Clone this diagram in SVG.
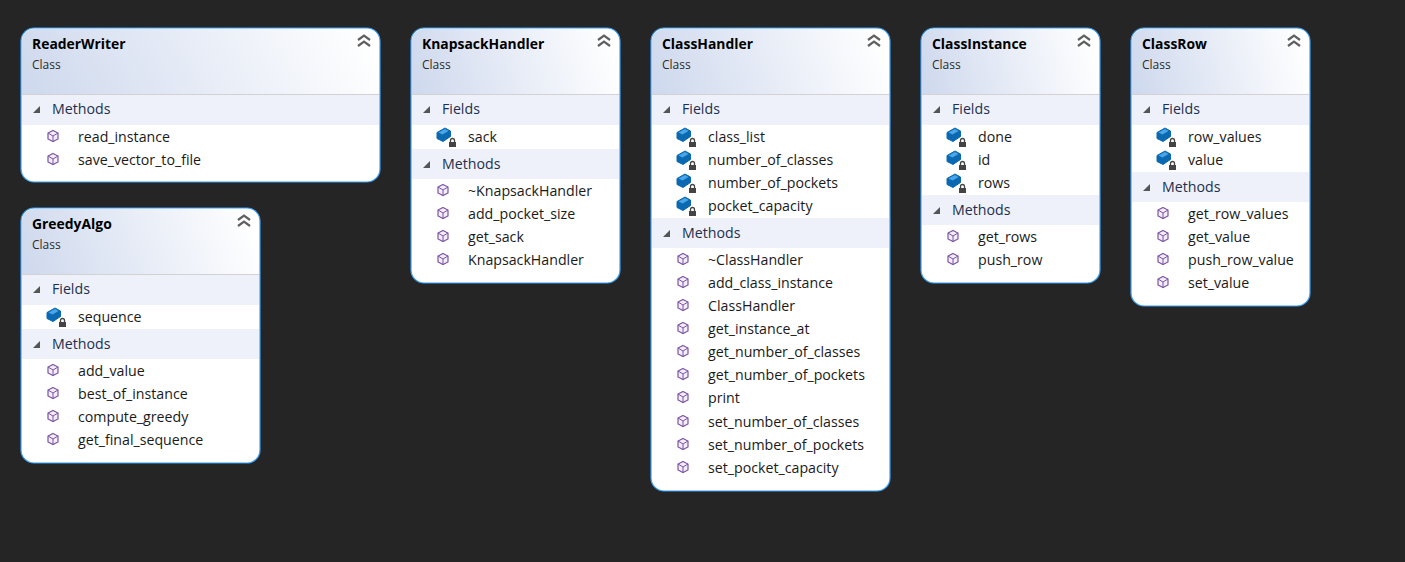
<svg xmlns="http://www.w3.org/2000/svg" width="1405" height="562" viewBox="0 0 1405 562">
<style>
text{font-family:"Open Sans","Noto Sans","Liberation Sans",sans-serif;font-size:14.2px;fill:#1a1a1a}
.t{font-weight:700;fill:#000;font-size:13.9px}
.c{font-size:12px;fill:#2b2b2b}
.s{fill:#1c3050}
.box{fill:#fff;stroke:#38a0f8;stroke-width:1.2}
.bar{fill:#eef1f9}
.sep{stroke:#d2d2d2;stroke-width:1}
</style>
<defs>
<linearGradient id="hg" x1="0" y1="0.55" x2="1" y2="0.45"><stop offset="0" stop-color="#d0daee"/><stop offset="1" stop-color="#ffffff"/></linearGradient>
<symbol id="tri" overflow="visible"><path d="M0 0L7 -7V0Z" fill="#555"/></symbol>
<symbol id="m" overflow="visible"><path d="M0 -5.500L5 -3V3L0 5.500L-5 3V-3Z" fill="#f3ecf9" stroke="#7a55a5" stroke-width="1.2"/><path d="M-5 -3L0 0L5 -3M0 0V5.500" fill="none" stroke="#7a55a5" stroke-width="1"/></symbol>
<symbol id="f" overflow="visible"><path d="M-8 -2.500L0 -7L5.500 -4V1.500L-2 6.500L-8 3.500Z" fill="#0b69b2" stroke="#0b69b2" stroke-linejoin="round"/><path d="M-6.500 -2.500L0 -6L3.500 -4L-2.500 -0.500Z" fill="#4aa6ea"/><rect x="3" y="4" width="9" height="8" rx="1" fill="#fff"/><rect x="4" y="7" width="7" height="5" fill="#444"/><path d="M5.500 7V5.500a2 2 0 0 1 4 0V7" fill="none" stroke="#444" stroke-width="1.300"/></symbol>
<symbol id="col" overflow="visible"><path d="M-6 -2.500L0 -7L6 -2.500M-6 3.500L0 -1L6 3.500" fill="none" stroke="#606060" stroke-width="2.200"/></symbol>
</defs>
<rect width="1405" height="562" fill="#252525"/>
<g id="connectors"/>
<g id="ReaderWriter">
<rect class="box" x="21" y="28" width="359" height="154" rx="13"/>
<path d="M22 94V41a12 12 0 0 1 12-12H367a12 12 0 0 1 12 12V94Z" fill="url(#hg)"/>
<line class="sep" x1="22" y1="94.500" x2="379" y2="94.500"/>
<rect class="bar" x="22" y="95" width="357" height="30"/>
<use href="#col" x="364" y="42.500"/>
<text class="t" x="32" y="49">ReaderWriter</text><text class="c" x="32" y="69">Class</text>
<use href="#tri" x="33" y="113"/><text class="s" x="52" y="114">Methods</text>
<use href="#m" x="53" y="136"/><text x="78" y="142">read_instance</text>
<use href="#m" x="53" y="159"/><text x="78" y="165">save_vector_to_file</text>
</g>
<g id="GreedyAlgo">
<rect class="box" x="21" y="208" width="239" height="255" rx="13"/>
<path d="M22 274V221a12 12 0 0 1 12-12H247a12 12 0 0 1 12 12V274Z" fill="url(#hg)"/>
<line class="sep" x1="22" y1="274.500" x2="259" y2="274.500"/>
<rect class="bar" x="22" y="275" width="237" height="30"/>
<rect class="bar" x="22" y="329" width="237" height="30"/>
<use href="#col" x="244" y="222.500"/>
<text class="t" x="32" y="229">GreedyAlgo</text><text class="c" x="32" y="249">Class</text>
<use href="#tri" x="33" y="293"/><text class="s" x="52" y="294">Fields</text>
<use href="#f" x="55" y="315"/><text x="78" y="322">sequence</text>
<use href="#tri" x="33" y="348"/><text class="s" x="52" y="349">Methods</text>
<use href="#m" x="53" y="370"/><text x="78" y="376">add_value</text>
<use href="#m" x="53" y="393"/><text x="78" y="399">best_of_instance</text>
<use href="#m" x="53" y="416"/><text x="78" y="422">compute_greedy</text>
<use href="#m" x="53" y="439"/><text x="78" y="445">get_final_sequence</text>
</g>
<g id="KnapsackHandler">
<rect class="box" x="411" y="28" width="209" height="255" rx="13"/>
<path d="M412 94V41a12 12 0 0 1 12-12H607a12 12 0 0 1 12 12V94Z" fill="url(#hg)"/>
<line class="sep" x1="412" y1="94.500" x2="619" y2="94.500"/>
<rect class="bar" x="412" y="95" width="207" height="30"/>
<rect class="bar" x="412" y="149" width="207" height="30"/>
<use href="#col" x="604" y="42.500"/>
<text class="t" x="422" y="49">KnapsackHandler</text><text class="c" x="422" y="69">Class</text>
<use href="#tri" x="423" y="113"/><text class="s" x="442" y="114">Fields</text>
<use href="#f" x="445" y="135"/><text x="468" y="142">sack</text>
<use href="#tri" x="423" y="168"/><text class="s" x="442" y="169">Methods</text>
<use href="#m" x="443" y="190"/><text x="468" y="196">~KnapsackHandler</text>
<use href="#m" x="443" y="213"/><text x="468" y="219">add_pocket_size</text>
<use href="#m" x="443" y="236"/><text x="468" y="242">get_sack</text>
<use href="#m" x="443" y="259"/><text x="468" y="265">KnapsackHandler</text>
</g>
<g id="ClassHandler">
<rect class="box" x="651" y="28" width="239" height="463" rx="13"/>
<path d="M652 94V41a12 12 0 0 1 12-12H877a12 12 0 0 1 12 12V94Z" fill="url(#hg)"/>
<line class="sep" x1="652" y1="94.500" x2="889" y2="94.500"/>
<rect class="bar" x="652" y="95" width="237" height="30"/>
<rect class="bar" x="652" y="218" width="237" height="30"/>
<use href="#col" x="874" y="42.500"/>
<text class="t" x="662" y="49">ClassHandler</text><text class="c" x="662" y="69">Class</text>
<use href="#tri" x="663" y="113"/><text class="s" x="682" y="114">Fields</text>
<use href="#f" x="685" y="135"/><text x="708" y="142">class_list</text>
<use href="#f" x="685" y="158"/><text x="708" y="165">number_of_classes</text>
<use href="#f" x="685" y="181"/><text x="708" y="188">number_of_pockets</text>
<use href="#f" x="685" y="204"/><text x="708" y="211">pocket_capacity</text>
<use href="#tri" x="663" y="237"/><text class="s" x="682" y="238">Methods</text>
<use href="#m" x="683" y="259"/><text x="708" y="265">~ClassHandler</text>
<use href="#m" x="683" y="282"/><text x="708" y="288">add_class_instance</text>
<use href="#m" x="683" y="305"/><text x="708" y="311">ClassHandler</text>
<use href="#m" x="683" y="328"/><text x="708" y="334">get_instance_at</text>
<use href="#m" x="683" y="351"/><text x="708" y="357">get_number_of_classes</text>
<use href="#m" x="683" y="374"/><text x="708" y="380">get_number_of_pockets</text>
<use href="#m" x="683" y="397"/><text x="708" y="403">print</text>
<use href="#m" x="683" y="421"/><text x="708" y="427">set_number_of_classes</text>
<use href="#m" x="683" y="444"/><text x="708" y="450">set_number_of_pockets</text>
<use href="#m" x="683" y="467"/><text x="708" y="473">set_pocket_capacity</text>
</g>
<g id="ClassInstance">
<rect class="box" x="921" y="28" width="179" height="255" rx="13"/>
<path d="M922 94V41a12 12 0 0 1 12-12H1087a12 12 0 0 1 12 12V94Z" fill="url(#hg)"/>
<line class="sep" x1="922" y1="94.500" x2="1099" y2="94.500"/>
<rect class="bar" x="922" y="95" width="177" height="30"/>
<rect class="bar" x="922" y="195" width="177" height="30"/>
<use href="#col" x="1084" y="42.500"/>
<text class="t" x="932" y="49">ClassInstance</text><text class="c" x="932" y="69">Class</text>
<use href="#tri" x="933" y="113"/><text class="s" x="952" y="114">Fields</text>
<use href="#f" x="955" y="135"/><text x="978" y="142">done</text>
<use href="#f" x="955" y="158"/><text x="978" y="165">id</text>
<use href="#f" x="955" y="181"/><text x="978" y="188">rows</text>
<use href="#tri" x="933" y="214"/><text class="s" x="952" y="215">Methods</text>
<use href="#m" x="953" y="236"/><text x="978" y="242">get_rows</text>
<use href="#m" x="953" y="259"/><text x="978" y="265">push_row</text>
</g>
<g id="ClassRow">
<rect class="box" x="1131" y="28" width="179" height="278" rx="13"/>
<path d="M1132 94V41a12 12 0 0 1 12-12H1297a12 12 0 0 1 12 12V94Z" fill="url(#hg)"/>
<line class="sep" x1="1132" y1="94.500" x2="1309" y2="94.500"/>
<rect class="bar" x="1132" y="95" width="177" height="30"/>
<rect class="bar" x="1132" y="172" width="177" height="30"/>
<use href="#col" x="1294" y="42.500"/>
<text class="t" x="1142" y="49">ClassRow</text><text class="c" x="1142" y="69">Class</text>
<use href="#tri" x="1143" y="113"/><text class="s" x="1162" y="114">Fields</text>
<use href="#f" x="1165" y="135"/><text x="1188" y="142">row_values</text>
<use href="#f" x="1165" y="158"/><text x="1188" y="165">value</text>
<use href="#tri" x="1143" y="191"/><text class="s" x="1162" y="192">Methods</text>
<use href="#m" x="1163" y="213"/><text x="1188" y="219">get_row_values</text>
<use href="#m" x="1163" y="236"/><text x="1188" y="242">get_value</text>
<use href="#m" x="1163" y="259"/><text x="1188" y="265">push_row_value</text>
<use href="#m" x="1163" y="282"/><text x="1188" y="288">set_value</text>
</g>
</svg>
